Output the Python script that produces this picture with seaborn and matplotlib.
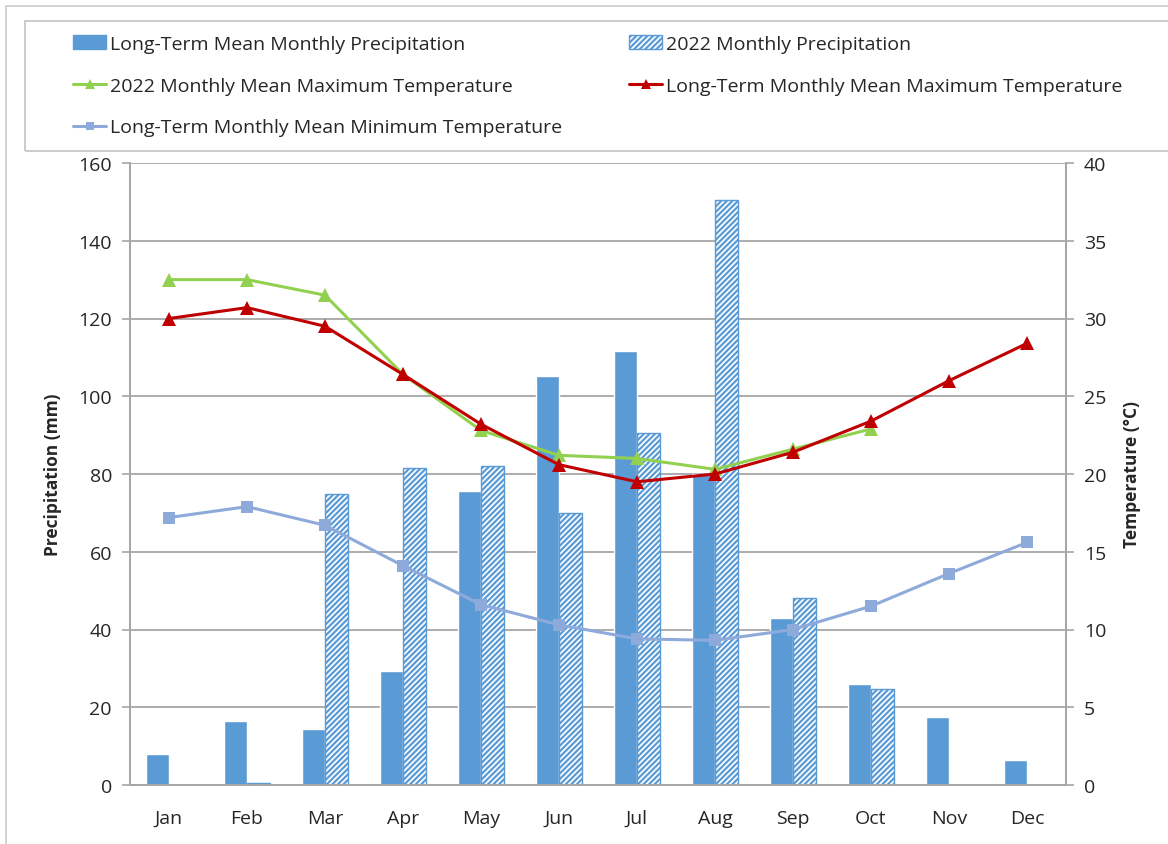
import numpy as np
import pandas as pd
import matplotlib.pyplot as plt
from matplotlib.lines import Line2D
from matplotlib.patches import Patch, Rectangle
from matplotlib.ticker import MultipleLocator
import seaborn as sns

# values
months = ['Jan', 'Feb', 'Mar', 'Apr', 'May', 'Jun', 'Jul', 'Aug', 'Sep', 'Oct', 'Nov', 'Dec']
precip_longterm = [8.0, 16.5, 14.4, 29.3, 75.6, 105.2, 111.6, 80.0, 43.0, 26.0, 17.6, 6.5]
precip_2022 = [0.0, 0.5, 74.9, 81.5, 82.0, 70.0, 90.5, 150.5, 48.0, 24.7, 0.0, 0.0]
tmax_2022 = [32.5, 32.5, 31.5, 26.4, 22.8, 21.2, 21.0, 20.3, 21.6, 22.9]  # Jan-Oct only
tmax_longterm = [30.0, 30.7, 29.5, 26.4, 23.2, 20.6, 19.5, 20.0, 21.4, 23.4, 26.0, 28.4]
tmin_longterm = [17.2, 17.9, 16.7, 14.1, 11.6, 10.3, 9.4, 9.3, 10.0, 11.5, 13.6, 15.6]

lbl_lt_p = 'Long-Term Mean Monthly Precipitation'
lbl_22_p = '2022 Monthly Precipitation'
lbl_22_tx = '2022 Monthly Mean Maximum Temperature'
lbl_lt_tx = 'Long-Term Monthly Mean Maximum Temperature'
lbl_lt_tn = 'Long-Term Monthly Mean Minimum Temperature'

bar_blue = '#5b9bd5'
green = '#92d050'
red = '#c00000'
lilac = '#8eaadb'
grid_grey = '#a6a6a6'
text_col = '#262626'

sns.set_style('white')
plt.rcParams['font.family'] = ['Open Sans', 'DejaVu Sans']
plt.rcParams['hatch.linewidth'] = 1.6

precip = pd.DataFrame({
    'Month': months * 2,
    'Precipitation': precip_longterm + precip_2022,
    'Series': [lbl_lt_p] * 12 + [lbl_22_p] * 12,
})

fig = plt.figure(figsize=(11.68, 8.45), dpi=100)
ax = fig.add_axes([130 / 1168, 59 / 845, 936 / 1168, 622 / 845])

sns.barplot(data=precip, x='Month', y='Precipitation', hue='Series',
            palette=[bar_blue, bar_blue], width=0.58, gap=0,
            saturation=1, ax=ax, legend=False, zorder=2)

# second series drawn as hatched bars
for bar in ax.containers[1]:
    bar.set_facecolor('white')
    bar.set_edgecolor(bar_blue)
    bar.set_linewidth(1.0)
    bar.set_hatch('//////')
    if bar.get_height() <= 0:
        bar.set_visible(False)

ax.set_ylim(0, 160)
ax.set_xlim(-0.5, 11.5)
ax.yaxis.set_major_locator(MultipleLocator(20))
ax.grid(axis='y', color=grid_grey, linewidth=1.3, zorder=0)
ax.set_axisbelow(True)
ax.set_xlabel('')
ax.set_ylabel('Precipitation (mm)', fontsize=12.5, fontweight='bold', labelpad=12, color=text_col)

ax2 = ax.twinx()
x_all = np.arange(12)
sns.lineplot(x=x_all[:len(tmax_2022)], y=tmax_2022, ax=ax2, color=green, marker='^',
             markersize=10, markeredgewidth=0, linewidth=2.2, sort=False)
sns.lineplot(x=x_all, y=tmax_longterm, ax=ax2, color=red, marker='^',
             markersize=10, markeredgewidth=0, linewidth=2.2, sort=False)
sns.lineplot(x=x_all, y=tmin_longterm, ax=ax2, color=lilac, marker='s',
             markersize=9, markeredgewidth=0, linewidth=2.2, sort=False)
ax2.set_ylim(0, 40)
ax2.yaxis.set_major_locator(MultipleLocator(5))
ax2.set_ylabel('Temperature (°C)', fontsize=12.5, fontweight='bold', labelpad=12, color=text_col)
ax2.grid(False)

for a in (ax, ax2):
    for side in ('left', 'right', 'bottom'):
        a.spines[side].set_visible(True)
        a.spines[side].set_color(grid_grey)
        a.spines[side].set_linewidth(1.3)
    a.spines['top'].set_visible(False)
    a.tick_params(axis='y', which='major', length=6, width=1.2, color=grid_grey,
                  labelsize=14, labelcolor=text_col, pad=7)

ax.set_xticks(x_all)
ax.set_xticklabels(months)
ax.set_xticks(np.arange(-0.5, 12, 1), minor=True)
ax.tick_params(axis='x', which='major', length=0, labelsize=14, labelcolor=text_col, pad=17)
ax.tick_params(axis='x', which='minor', length=7, width=1.2, color=grid_grey)
ax.tick_params(axis='y', which='major', left=True, right=False)
ax2.tick_params(axis='y', which='major', right=True, left=False)

# legend across the top
handles = [
    Patch(facecolor=bar_blue, edgecolor=bar_blue, label=lbl_lt_p),
    Line2D([], [], color=green, marker='^', markersize=7, markeredgewidth=0, linewidth=2.2, label=lbl_22_tx),
    Line2D([], [], color=lilac, marker='s', markersize=6, markeredgewidth=0, linewidth=2.2, label=lbl_lt_tn),
    Patch(facecolor='white', edgecolor=bar_blue, hatch='//////', label=lbl_22_p),
    Line2D([], [], color=red, marker='^', markersize=7, markeredgewidth=0, linewidth=2.2, label=lbl_lt_tx),
]
leg = fig.legend(handles=handles, ncol=2, loc='upper left',
                 bbox_to_anchor=(73 / 1168, 1 - 36 / 845),
                 fontsize=14, frameon=False, borderaxespad=0, borderpad=0,
                 handlelength=1.7, handletextpad=0.2, labelspacing=1.22,
                 columnspacing=3.45)
for t in leg.get_texts():
    t.set_color(text_col)

# legend frame and outer chart-area border
fig.patches.append(Rectangle((25 / 1168, 1 - 152 / 845), 1.2, 130 / 845,
                             transform=fig.transFigure, fill=False,
                             edgecolor='#c8c8c8', linewidth=1.3))
fig.patches.append(Rectangle((6 / 1168, -0.1), 1.2, 1.1 - 7 / 845,
                             transform=fig.transFigure, fill=False,
                             edgecolor='#d0d0d0', linewidth=1.3))

fig.savefig('out.png', dpi=100)
